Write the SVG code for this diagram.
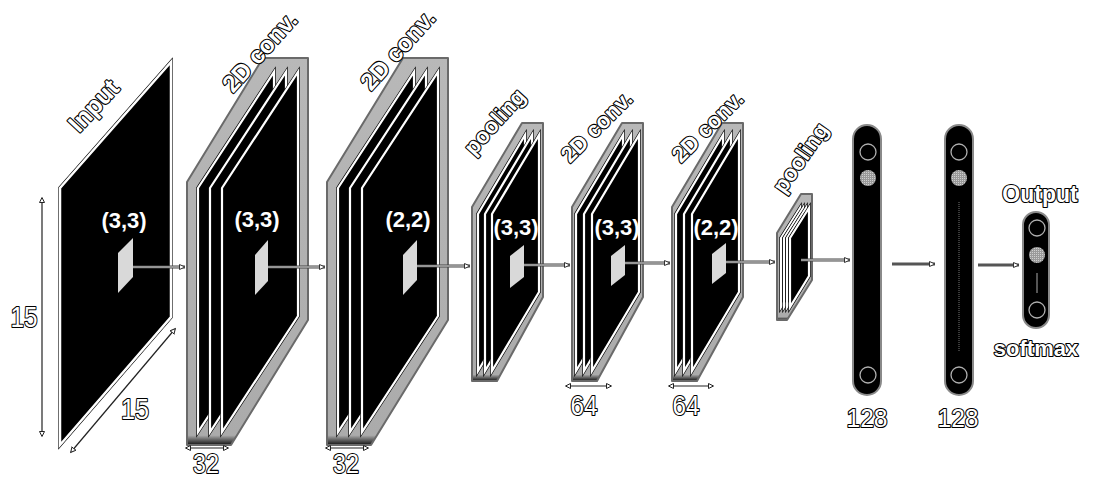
<svg xmlns="http://www.w3.org/2000/svg" xmlns:xlink="http://www.w3.org/1999/xlink" width="1099" height="491" viewBox="0 0 1099 491">
<style>
.lbl{font-family:"Liberation Sans",Arial,sans-serif;font-weight:bold;fill:#fff;stroke:#000;stroke-width:2.2;paint-order:stroke;stroke-linejoin:round}
.num{font-family:"Liberation Sans",Arial,sans-serif;fill:#fff;stroke:#000;stroke-width:2.2;paint-order:stroke;stroke-linejoin:round;text-anchor:middle}
.ker{font-family:"Liberation Sans",Arial,sans-serif;font-weight:bold;font-size:22px;fill:#fff;text-anchor:middle}
.blk{fill:url(#gshade);stroke:#6a6a6a;stroke-width:2;stroke-linejoin:round}
.pb{fill:none;stroke:#000;stroke-width:3.5;stroke-linejoin:miter}
.pw{fill:#000;stroke:#fff;stroke-width:2.2}
.kr{fill:#d9d9d9}
.cu{fill:none;stroke:#444;stroke-width:3}
.cl{fill:none;stroke:#e6e6e6;stroke-width:1.2}
.thick{fill:none;stroke:#555;stroke-width:3}
.dim{fill:none;stroke:#222;stroke-width:1.2}
.pill{fill:#000;stroke:#8a8a8a;stroke-width:2}
.oc{fill:none;stroke:#b0b0b0;stroke-width:1.3}
.fc{fill:url(#dots)}
</style>
<defs>
<linearGradient id="gshade" x1="0" y1="0" x2="0" y2="1">
<stop offset="0" stop-color="#b8b8b8"/>
<stop offset="0.975" stop-color="#ababab"/>
<stop offset="1" stop-color="#111"/>
</linearGradient>
<pattern id="dots" width="2" height="2" patternUnits="userSpaceOnUse">
<rect width="2" height="2" fill="#9a9a9a"/>
<rect width="1" height="1" fill="#cfcfcf"/>
</pattern>
<marker id="ah" markerWidth="8" markerHeight="8" refX="6" refY="3" orient="auto" markerUnits="userSpaceOnUse">
<path d="M0.5,0.5 L6,3 L0.5,5.5 Z" fill="#fff" stroke="#333" stroke-width="1"/>
</marker>
<marker id="dm" markerWidth="8" markerHeight="8" refX="5" refY="3" orient="auto-start-reverse" markerUnits="userSpaceOnUse">
<path d="M0.5,0.5 L5.5,3 L0.5,5.5 Z" fill="#fff" stroke="#222" stroke-width="1"/>
</marker>
<g id="pc">
<polygon class="pb" points="222,188 298,72 298,316 222,432"/>
<polygon class="pw" points="222,188 298,72 298,316 222,432"/>
</g>
<g id="ps">
<polygon class="pb" points="592,214 639,135 639,292 592,371"/>
<polygon class="pw" points="592,214 639,135 639,292 592,371"/>
</g>
<g id="pp">
<polygon class="pb" points="790,238 809,208 809,276 790,307"/>
<polygon class="pw" points="790,238 809,208 809,276 790,307"/>
</g>
</defs>
<rect width="1099" height="491" fill="#fff"/>

<g id="input">
<polygon class="pb" points="60,188 171,62 171,317 60,445" stroke-width="5"/>
<polygon points="60,188 171,62 171,317 60,445" fill="#000" stroke="#fff" stroke-width="2.5"/>
<polygon class="kr" points="118,253 133,238 133,277 118,293"/>
<text class="ker" x="124" y="228">(3,3)</text>
<text class="lbl" font-size="25" text-anchor="middle" transform="translate(94,106) rotate(-47)" dy="8" font-weight="normal">Input</text>
</g>

<g id="conv1">
<polygon class="blk" points="187,182 263,58 308,58 308,320 231,445 187,445"/>
<use xlink:href="#pc" transform="translate(-24,0)"/>
<use xlink:href="#pc" transform="translate(-12,0)"/>
<use xlink:href="#pc"/>
<polygon class="kr" points="255,255 268,240 268,281 255,295"/>
<text class="ker" x="257" y="227">(3,3)</text>
<text class="lbl" font-size="24" text-anchor="middle" transform="translate(260,52) rotate(-48)" dy="8">2D conv.</text>
</g>

<g id="conv2">
<polygon class="blk" points="327,182 403,58 448,58 448,320 371,445 327,445"/>
<use xlink:href="#pc" transform="translate(116,0)"/>
<use xlink:href="#pc" transform="translate(128,0)"/>
<use xlink:href="#pc" transform="translate(140,0)"/>
<polygon class="kr" points="403,255 417,240 417,280 403,295"/>
<text class="ker" x="408" y="227">(2,2)</text>
<text class="lbl" font-size="24" text-anchor="middle" transform="translate(398,50) rotate(-48)" dy="8">2D conv.</text>
</g>

<g id="pool1">
<polygon class="blk" points="472,207 522,123 543,123 543,297 497,381 472,381"/>
<use xlink:href="#ps" transform="translate(-114,0)"/>
<use xlink:href="#ps" transform="translate(-107,0)"/>
<use xlink:href="#ps" transform="translate(-100,0)"/>
<polygon class="kr" points="510,256 524,245 524,277 510,288"/>
<text class="ker" x="516" y="235">(3,3)</text>
<text class="lbl" font-size="22" text-anchor="middle" transform="translate(495,122) rotate(-48)" dy="7">pooling</text>
</g>

<g id="conv3">
<polygon class="blk" points="572,207 622,123 643,123 643,297 597,381 572,381"/>
<use xlink:href="#ps" transform="translate(-16,0)"/>
<use xlink:href="#ps" transform="translate(-8,0)"/>
<use xlink:href="#ps"/>
<polygon class="kr" points="611,256 625,245 625,275 611,286"/>
<text class="ker" x="617" y="235">(3,3)</text>
<text class="lbl" font-size="22" text-anchor="middle" transform="translate(597,127) rotate(-45)" dy="7">2D conv.</text>
</g>

<g id="conv4">
<polygon class="blk" points="672,207 722,123 743,123 743,297 697,381 672,381"/>
<use xlink:href="#ps" transform="translate(84,0)"/>
<use xlink:href="#ps" transform="translate(92,0)"/>
<use xlink:href="#ps" transform="translate(100,0)"/>
<polygon class="kr" points="712,254 726,243 726,273 712,284"/>
<text class="ker" x="716" y="235">(2,2)</text>
<text class="lbl" font-size="22" text-anchor="middle" transform="translate(708,127) rotate(-45)" dy="7">2D conv.</text>
</g>

<g id="pool2">
<polygon class="blk" points="777,233 801,194 812,194 812,280 787,320 777,320" stroke-width="1.5"/>
<use xlink:href="#pp" transform="translate(-9,0)"/>
<use xlink:href="#pp" transform="translate(-6,0)"/>
<use xlink:href="#pp" transform="translate(-3,0)"/>
<use xlink:href="#pp"/>
<text class="lbl" font-size="22" text-anchor="middle" transform="translate(801,158) rotate(-55)" dy="7">pooling</text>
</g>

<g id="dense1">
<rect class="pill" x="853" y="125" width="28" height="270" rx="14"/>
<circle class="oc" cx="868" cy="152" r="8"/>
<circle class="fc" cx="868" cy="178" r="8"/>
<circle class="oc" cx="868" cy="375" r="8"/>
<text class="num" x="867" y="427" font-size="26" textLength="41" lengthAdjust="spacingAndGlyphs">128</text>
</g>

<g id="dense2">
<rect class="pill" x="945" y="125" width="28" height="270" rx="14"/>
<circle class="oc" cx="959" cy="152" r="8"/>
<circle class="fc" cx="959" cy="178" r="8"/>
<line x1="959" y1="202" x2="959" y2="352" stroke="#777" stroke-width="1" stroke-dasharray="1 1"/>
<circle class="oc" cx="959" cy="375" r="8"/>
<text class="num" x="958" y="427" font-size="26" textLength="41" lengthAdjust="spacingAndGlyphs">128</text>
</g>

<g id="output">
<rect class="pill" x="1023" y="212" width="26" height="116" rx="13"/>
<circle class="oc" cx="1037" cy="228" r="8"/>
<circle class="fc" cx="1037" cy="255" r="8"/>
<line x1="1037" y1="273" x2="1037" y2="293" stroke="#aaa" stroke-width="1"/>
<circle class="oc" cx="1037" cy="310" r="8"/>
<text class="lbl" x="1040" y="202" font-size="23" text-anchor="middle">Output</text>
<text class="lbl" x="1036" y="356" font-size="22" text-anchor="middle">softmax</text>
</g>

<g id="dimensions">
<line class="dim" x1="42" y1="198" x2="42" y2="436" marker-start="url(#dm)" marker-end="url(#dm)"/>
<text class="num" x="24" y="327" font-size="29" textLength="27" lengthAdjust="spacingAndGlyphs">15</text>
<line class="dim" x1="71" y1="452" x2="175" y2="329" marker-start="url(#dm)" marker-end="url(#dm)"/>
<text class="num" x="135" y="419" font-size="29" textLength="28" lengthAdjust="spacingAndGlyphs">15</text>
<line class="dim" x1="186" y1="448" x2="228" y2="448" marker-start="url(#dm)" marker-end="url(#dm)"/>
<text class="num" x="206" y="473" font-size="27" textLength="26" lengthAdjust="spacingAndGlyphs">32</text>
<line class="dim" x1="326" y1="448" x2="368" y2="448" marker-start="url(#dm)" marker-end="url(#dm)"/>
<text class="num" x="346" y="473" font-size="27" textLength="26" lengthAdjust="spacingAndGlyphs">32</text>
<line class="dim" x1="566" y1="386" x2="611" y2="386" marker-start="url(#dm)" marker-end="url(#dm)"/>
<text class="num" x="584" y="415" font-size="27" textLength="27" lengthAdjust="spacingAndGlyphs">64</text>
<line class="dim" x1="669" y1="386" x2="713" y2="386" marker-start="url(#dm)" marker-end="url(#dm)"/>
<text class="num" x="686" y="415" font-size="27" textLength="27" lengthAdjust="spacingAndGlyphs">64</text>
</g>

<g id="connectors">
<path class="cu" d="M133,267 H185"/>
<path class="cl" d="M133,267 H185" marker-end="url(#ah)"/>
<path class="cu" d="M268,267 H325"/>
<path class="cl" d="M268,267 H325" marker-end="url(#ah)"/>
<path class="cu" d="M417,266 H470"/>
<path class="cl" d="M417,266 H470" marker-end="url(#ah)"/>
<path class="cu" d="M524,265 H570"/>
<path class="cl" d="M524,265 H570" marker-end="url(#ah)"/>
<path class="cu" d="M625,263 H670"/>
<path class="cl" d="M625,263 H670" marker-end="url(#ah)"/>
<path class="cu" d="M726,262 H775"/>
<path class="cl" d="M726,262 H775" marker-end="url(#ah)"/>
<path class="cu" d="M801,260 H850"/>
<path class="cl" d="M801,260 H850" marker-end="url(#ah)"/>
<path class="thick" d="M892,264 H935" marker-end="url(#ah)"/>
<path class="thick" d="M978,265 H1019" marker-end="url(#ah)"/>
</g>
</svg>
